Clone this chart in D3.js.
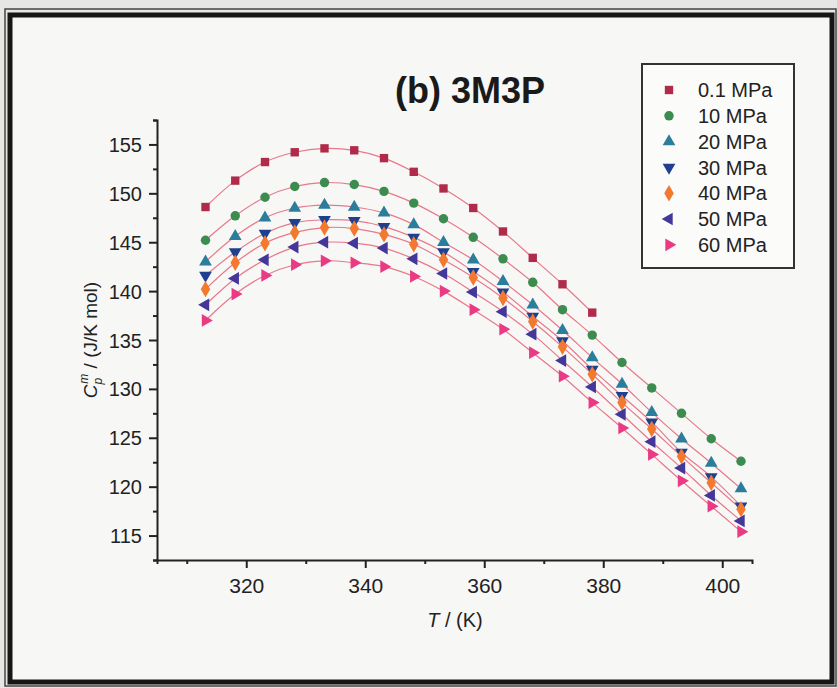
<!DOCTYPE html>
<html>
<head>
<meta charset="utf-8">
<title>3M3P heat capacity</title>
<script src="https://cdnjs.cloudflare.com/ajax/libs/d3/7.8.5/d3.min.js"></script>
<style>
  body { margin: 0; background: #e6e6e4; }
  svg { display: block; font-family: "Liberation Sans", Arial, sans-serif; }
</style>
</head>
<body>
<script>
// temperatures (K)
const temps = [313.15, 318.15, 323.15, 328.15, 333.15, 338.15, 343.15, 348.15, 353.15, 358.15,
               363.15, 368.15, 373.15, 378.15, 383.15, 388.15, 393.15, 398.15, 403.15];

const labels = ["0.1 MPa", "10 MPa", "20 MPa", "30 MPa", "40 MPa", "50 MPa", "60 MPa"];

// Cp (J/K mol)
const cp01 = [148.6, 151.3, 153.2, 154.2, 154.6, 154.4, 153.6, 152.2, 150.5, 148.5, 146.1, 143.4, 140.7, 137.8];
const cp10 = [145.2, 147.7, 149.6, 150.7, 151.1, 150.9, 150.2, 149.0, 147.4, 145.5, 143.3, 140.9, 138.1, 135.5, 132.7, 130.1, 127.5, 124.9, 122.6];
const cp20 = [143.0, 145.6, 147.5, 148.5, 148.8, 148.6, 148.0, 146.8, 145.0, 143.2, 141.0, 138.6, 136.0, 133.2, 130.5, 127.6, 124.9, 122.4, 119.8];
const cp30 = [141.6, 144.0, 145.9, 147.0, 147.3, 147.2, 146.6, 145.5, 144.0, 142.0, 139.9, 137.4, 134.9, 132.0, 129.3, 126.6, 123.5, 121.0, 118.0];
const cp40 = [140.2, 142.9, 144.9, 146.0, 146.5, 146.4, 145.8, 144.8, 143.2, 141.4, 139.3, 136.9, 134.3, 131.5, 128.6, 125.9, 123.1, 120.4, 117.7];
const cp50 = [138.6, 141.3, 143.2, 144.5, 145.0, 144.9, 144.4, 143.3, 141.8, 139.9, 137.9, 135.6, 132.9, 130.2, 127.4, 124.6, 121.9, 119.1, 116.5];
const cp60 = [137.0, 139.7, 141.6, 142.7, 143.1, 142.9, 142.5, 141.5, 140.0, 138.1, 136.1, 133.7, 131.3, 128.6, 126.0, 123.3, 120.6, 118.0, 115.4];

const xTicks = [320, 340, 360, 380, 400];
const yTicks = [115, 120, 125, 130, 135, 140, 145, 150, 155];

const seriesVals = [cp01, cp10, cp20, cp30, cp40, cp50, cp60];
const colors = ["#b02a4a", "#3d8c4f", "#2b7d9c", "#1f3f8f", "#f2792e", "#43389a", "#ea3a84"];
const shapes = [
  { type: d3.symbolSquare, rot: 0, size: 70 },
  { type: d3.symbolCircle, rot: 0, size: 70 },
  { type: d3.symbolTriangle, rot: 0, size: 70 },
  { type: d3.symbolTriangle, rot: 180, size: 70 },
  { type: d3.symbolDiamond, rot: 0, size: 78 },
  { type: d3.symbolTriangle, rot: -90, size: 70 },
  { type: d3.symbolTriangle, rot: 90, size: 70 }
];

const W = 837, H = 688;
const pLeft = 157, pRight = 752, pTop = 120, pBottom = 560;

const svg = d3.select("body").append("svg").attr("width", W).attr("height", H);

// frame
svg.append("rect").attr("x", 5).attr("y", 9).attr("width", 831).attr("height", 677)
  .attr("fill", "none").attr("stroke", "#444").attr("stroke-width", 1.5);
svg.append("rect").attr("x", 10).attr("y", 15).attr("width", 822).attr("height", 667)
  .attr("fill", "#f7f7f5").attr("stroke", "#161616").attr("stroke-width", 5);

const x = d3.scaleLinear().domain([305, 405]).range([pLeft, pRight]);
const y = d3.scaleLinear().domain([112.5, 157.5]).range([pBottom, pTop]);

// fit lines
const line = d3.line().x(d => x(d[0])).y(d => y(d[1])).curve(d3.curveCatmullRom);
seriesVals.forEach((vals, i) => {
  const pts = vals.map((v, j) => [temps[j], v]);
  svg.append("path").attr("d", line(pts))
    .attr("fill", "none").attr("stroke", "#e8788a").attr("stroke-width", 1.2);
});

// markers
seriesVals.forEach((vals, i) => {
  const sh = shapes[i];
  const sym = d3.symbol().type(sh.type).size(sh.size);
  svg.append("g").selectAll("path").data(vals).enter().append("path")
    .attr("d", sym)
    .attr("transform", (d, j) => `translate(${x(temps[j])},${y(d)}) rotate(${sh.rot})`)
    .attr("fill", colors[i]);
});

// axes
const xAxis = svg.append("g").attr("transform", `translate(0,${pBottom})`);
xAxis.call(d3.axisBottom(x).tickValues(d3.range(310, 401, 10)).tickSize(4).tickFormat(""));
xAxis.call(g => g.selectAll(".tick").filter(d => xTicks.includes(d)).select("line").attr("y2", 8));
xAxis.selectAll(".tick").filter(d => xTicks.includes(d)).append("text")
  .attr("y", 33).attr("fill", "#222").attr("text-anchor", "middle")
  .style("font-size", "21px").text(d => d);

const yAxis = svg.append("g").attr("transform", `translate(${pLeft},0)`);
yAxis.call(d3.axisLeft(y).tickValues(d3.range(112.5, 157.6, 2.5)).tickSize(4).tickFormat(""));
yAxis.call(g => g.selectAll(".tick").filter(d => yTicks.includes(d)).select("line").attr("x2", -8));
yAxis.selectAll(".tick").filter(d => yTicks.includes(d)).append("text")
  .attr("x", -15).attr("dy", "0.35em").attr("fill", "#222").attr("text-anchor", "end")
  .style("font-size", "20px").text(d => d);

svg.selectAll(".domain").attr("stroke", "#222").attr("stroke-width", 2);
svg.selectAll(".tick line").attr("stroke", "#222").attr("stroke-width", 2);

// title
svg.append("text").attr("x", 470).attr("y", 103).attr("text-anchor", "middle")
  .style("font-size", "36px").style("font-weight", "bold").attr("fill", "#1a1a1a").text("(b) 3M3P");

// axis labels
const xl = svg.append("text").attr("x", 455).attr("y", 627).attr("text-anchor", "middle")
  .style("font-size", "20px").attr("fill", "#222");
xl.append("tspan").style("font-style", "italic").text("T");
xl.append("tspan").text(" / (K)");

const yl = svg.append("text").attr("transform", "translate(97,340) rotate(-90)")
  .attr("text-anchor", "middle").style("font-size", "19px").attr("fill", "#222");
yl.append("tspan").style("font-style", "italic").text("C");
yl.append("tspan").attr("dy", 5).style("font-size", "12px").style("font-style", "italic").text("p");
yl.append("tspan").attr("dy", -14).attr("dx", -6).style("font-size", "12px").style("font-style", "italic").text("m");
yl.append("tspan").attr("dy", 9).text(" / (J/K mol)");

// legend
svg.append("rect").attr("x", 642).attr("y", 64).attr("width", 152).attr("height", 204)
  .attr("fill", "#fbfbfa").attr("stroke", "#333").attr("stroke-width", 2);
const leg = svg.append("g").selectAll("g").data(labels).enter().append("g")
  .attr("transform", (d, i) => `translate(669,${90 + i * 25.8})`);
leg.append("path")
  .attr("d", (d, i) => d3.symbol().type(shapes[i].type).size(shapes[i].size)())
  .attr("transform", (d, i) => `rotate(${shapes[i].rot})`)
  .attr("fill", (d, i) => colors[i]);
leg.append("text").attr("x", 29).attr("dy", "0.36em").style("font-size", "20px")
  .attr("fill", "#222").text(d => d);
</script>
</body>
</html>
